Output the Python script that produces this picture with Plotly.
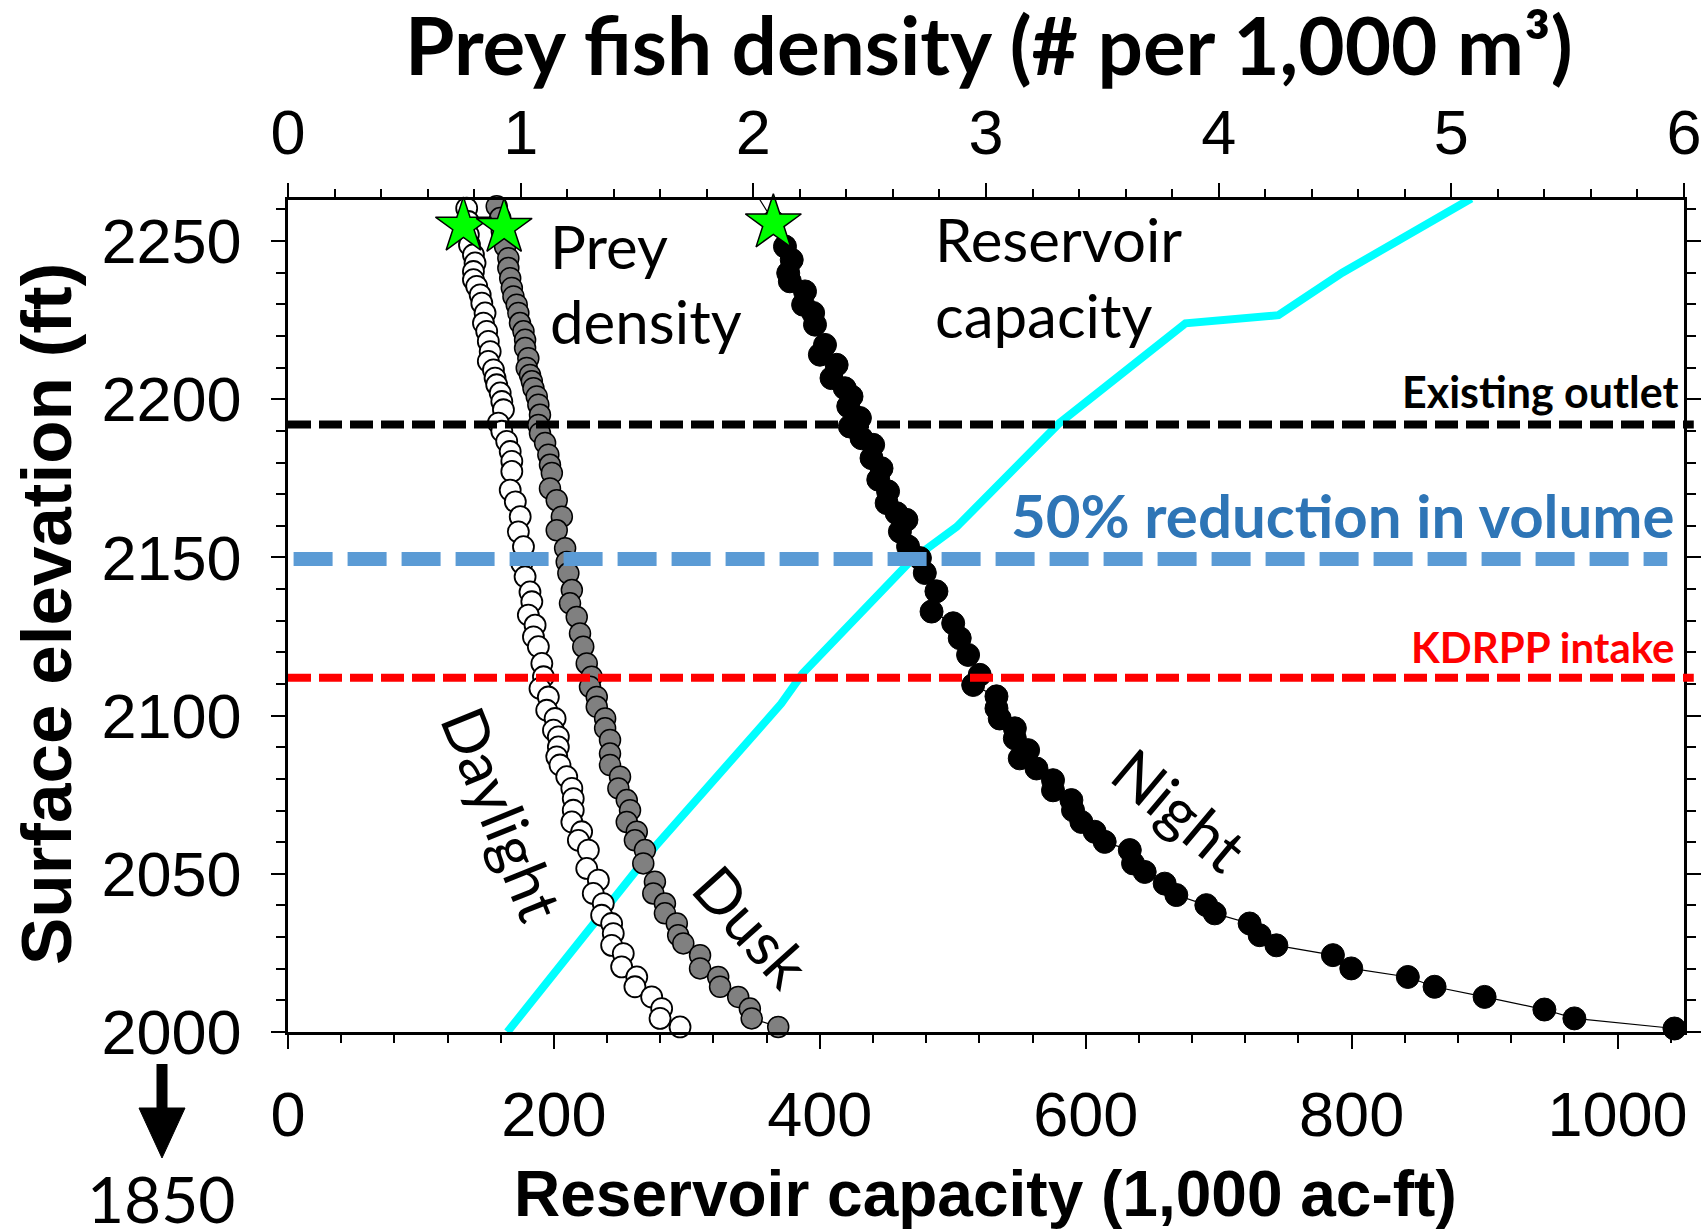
import plotly.graph_objects as go

# ---------------- data ----------------
# Prey fish density (# per 1,000 m3) vs surface elevation (ft)
daylight_density = [0.761, 0.768, 0.775, 0.775, 0.780, 0.797, 0.804, 0.797, 0.797, 0.811,
                    0.826, 0.833, 0.847, 0.840, 0.854, 0.861, 0.869, 0.861, 0.883, 0.890,
                    0.897, 0.912, 0.919, 0.926, 0.904, 0.919, 0.940, 0.955, 0.962, 0.962,
                    0.955, 0.977, 0.998, 0.990, 1.012, 1.005, 1.019, 1.040, 1.048, 1.033,
                    1.062, 1.055, 1.076, 1.091, 1.098, 1.083, 1.119, 1.112, 1.148, 1.141,
                    1.162, 1.162, 1.155, 1.169, 1.198, 1.220, 1.226, 1.226, 1.220, 1.262,
                    1.248, 1.291, 1.284, 1.334, 1.312, 1.355, 1.348, 1.391, 1.398, 1.391,
                    1.441, 1.434, 1.499, 1.491, 1.563, 1.606, 1.599, 1.685]
daylight_elev = [2263.6, 2260.4, 2256.2, 2252.0, 2248.8, 2245.7, 2243.1, 2240.4, 2237.8, 2235.7,
                 2233.0, 2230.4, 2227.3, 2224.1, 2221.5, 2218.3, 2215.1, 2212.0, 2209.3, 2206.7,
                 2204.6, 2202.0, 2199.3, 2196.7, 2192.5, 2189.9, 2186.7, 2183.5, 2180.4, 2177.2,
                 2171.3, 2167.6, 2162.9, 2158.1, 2153.4, 2148.1, 2143.9, 2139.1, 2136.0, 2131.8,
                 2128.6, 2124.9, 2121.8, 2116.5, 2112.3, 2108.6, 2105.9, 2101.7, 2099.1, 2095.4,
                 2093.3, 2090.1, 2087.0, 2084.4, 2080.7, 2077.0, 2073.8, 2070.1, 2066.4, 2063.3,
                 2060.6, 2057.5, 2051.7, 2048.0, 2043.8, 2040.6, 2036.9, 2034.3, 2031.1, 2027.4,
                 2024.8, 2020.6, 2017.4, 2014.3, 2011.1, 2007.4, 2004.3, 2001.6]

dusk_density = [0.887, 0.897, 0.912, 0.919, 0.933, 0.947, 0.947, 0.955, 0.962, 0.969,
                0.983, 0.990, 0.997, 1.012, 1.019, 1.019, 1.033, 1.026, 1.040, 1.048,
                1.055, 1.069, 1.076, 1.083, 1.076, 1.083, 1.105, 1.119, 1.126, 1.134,
                1.126, 1.155, 1.177, 1.155, 1.191, 1.198, 1.205, 1.220, 1.212, 1.241,
                1.255, 1.269, 1.284, 1.305, 1.298, 1.327, 1.327, 1.363, 1.363, 1.384,
                1.384, 1.384, 1.427, 1.420, 1.456, 1.470, 1.456, 1.499, 1.491, 1.534,
                1.527, 1.577, 1.570, 1.620, 1.620, 1.671, 1.677, 1.699, 1.771, 1.771,
                1.849, 1.857, 1.935, 1.985, 1.993, 2.107]
dusk_elev = [2263.4, 2261.0, 2257.3, 2253.1, 2248.3, 2244.6, 2241.5, 2238.3, 2235.2, 2232.5,
             2229.9, 2227.3, 2224.1, 2221.5, 2218.8, 2216.2, 2213.0, 2209.9, 2207.7, 2205.7,
             2203.5, 2200.9, 2198.3, 2195.1, 2191.9, 2189.3, 2186.2, 2182.5, 2179.3, 2176.7,
             2171.8, 2168.1, 2162.9, 2158.6, 2152.9, 2148.6, 2145.0, 2139.7, 2135.5, 2131.2,
             2126.0, 2121.8, 2116.5, 2112.3, 2109.1, 2105.9, 2102.8, 2099.1, 2096.0, 2092.3,
             2088.0, 2084.4, 2080.7, 2077.0, 2073.3, 2070.1, 2066.4, 2063.3, 2060.6, 2057.5,
             2053.3, 2047.5, 2043.8, 2040.6, 2037.5, 2034.3, 2030.6, 2028.0, 2024.3, 2020.1,
             2017.4, 2014.3, 2011.1, 2007.4, 2004.3, 2001.6]

night_density = [2.028, 2.086, 2.136, 2.165, 2.150, 2.157, 2.222, 2.214, 2.257, 2.265,
                 2.308, 2.286, 2.358, 2.336, 2.393, 2.422, 2.408, 2.458, 2.415, 2.465,
                 2.515, 2.508, 2.551, 2.537, 2.579, 2.573, 2.616, 2.658, 2.630, 2.665,
                 2.716, 2.737, 2.787, 2.766, 2.859, 2.887, 2.923, 2.973, 2.945, 3.045,
                 3.045, 3.059, 3.124, 3.124, 3.181, 3.145, 3.217, 3.288, 3.288, 3.367,
                 3.374, 3.410, 3.467, 3.510, 3.618, 3.632, 3.682, 3.768, 3.818, 3.947,
                 3.983, 4.133, 4.176, 4.248, 4.491, 4.570, 4.813, 4.928, 5.143, 5.400,
                 5.529, 5.959]
night_elev = [2263.1, 2256.2, 2248.3, 2244.1, 2239.9, 2237.3, 2234.1, 2229.9, 2227.3, 2223.6,
              2217.2, 2214.1, 2210.9, 2206.7, 2203.5, 2200.9, 2197.8, 2194.1, 2191.4, 2187.7,
              2185.6, 2181.4, 2178.2, 2174.6, 2170.9, 2167.2, 2164.0, 2161.9, 2158.2, 2153.5,
              2149.8, 2145.1, 2139.3, 2132.9, 2129.2, 2124.5, 2119.2, 2112.9, 2109.7, 2106.1,
              2102.3, 2099.1, 2096.0, 2092.8, 2089.1, 2086.5, 2083.3, 2079.6, 2076.4, 2073.3,
              2070.1, 2066.4, 2063.3, 2060.1, 2057.5, 2053.3, 2050.6, 2046.9, 2043.3, 2040.1,
              2037.5, 2034.3, 2030.6, 2027.4, 2024.3, 2020.1, 2017.4, 2014.3, 2011.1, 2007.1,
              2004.3, 2001.1]

# green stars (current operating level)
star_density = [0.754, 0.929, 2.086]
star_elev = [2254.7, 2254.3, 2255.7]

# Reservoir capacity (1,000 ac-ft) vs surface elevation (ft)
capacity_kaf = [165, 276, 371, 387, 469, 503, 580, 675, 745, 793, 890]
capacity_elev = [2000, 2058.5, 2103.8, 2113.3, 2149.2, 2159.7, 2192.4, 2224.0, 2226.6, 2240.0, 2263.5]

# horizontal reference elevations
level_names = ["Existing outlet", "50% reduction in volume", "KDRPP intake"]
level_elev = [2192, 2149.5, 2112]

# tick labels
capacity_ticks = [0, 200, 400, 600, 800, 1000]
density_ticks = [0, 1, 2, 3, 4, 5, 6]
elev_ticks = [2000, 2050, 2100, 2150, 2200, 2250]

# ---------------- layout geometry ----------------
W, H = 1703, 1229
L, R, T, B = 288, 19, 200, 197
PW, PH = W - L - R, H - T - B


def px(x):
    return (x - L) / PW


def py(y):
    return (H - B - y) / PH


ARIAL = "Liberation Sans, Arial, sans-serif"
CALIBRI = "Lato, Carlito, Calibri, sans-serif"

fig = go.Figure()

# reservoir capacity curve (bottom axis)
fig.add_trace(go.Scatter(x=capacity_kaf, y=capacity_elev, mode="lines",
                         line=dict(color="#00FFFF", width=8),
                         xaxis="x", yaxis="y", hoverinfo="skip"))

series = [
    (daylight_density, daylight_elev, "white", 21, 1.8),
    (dusk_density, dusk_elev, "#808080", 21, 1.5),
    (night_density, night_elev, "black", 23, 1.0),
]
for dens, elev, fill, size, lw in series:
    fig.add_trace(go.Scatter(x=dens, y=elev, mode="lines+markers",
                             line=dict(color="black", width=1.2),
                             marker=dict(color=fill, size=size,
                                         line=dict(color="black", width=lw)),
                             xaxis="x2", yaxis="y", cliponaxis=False))

fig.add_trace(go.Scatter(x=star_density, y=star_elev, mode="markers",
                         marker=dict(symbol="star", size=42, color="#00FF00",
                                     line=dict(color="black", width=1.5)),
                         xaxis="x2", yaxis="y", cliponaxis=False))

# horizontal reference lines
line_styles = [
    dict(color="black", width=8, dash="23px,8px"),
    dict(color="#5B9BD5", width=14, dash="39px,15px"),
    dict(color="#FF0000", width=8, dash="23px,8px"),
]
line_x = [(0, 1.007), (0.004, 0.988), (0, 1.007)]
shapes = []
for lvl, st, (x0, x1) in zip(level_elev, line_styles, line_x):
    shapes.append(dict(type="line", xref="paper", yref="y", x0=x0, x1=x1,
                       y0=lvl, y1=lvl, line=st, layer="above"))

# arrow toward 1850 at lower left
shapes.append(dict(type="line", xref="paper", yref="paper",
                   x0=px(162), x1=px(162), y0=py(1064), y1=py(1112),
                   line=dict(color="black", width=11)))
shapes.append(dict(type="path", xref="paper", yref="paper",
                   path=f"M {px(139)},{py(1108)} L {px(185)},{py(1108)} L {px(162)},{py(1158)} Z",
                   fillcolor="black", line=dict(color="black", width=1)))

ann = []


def add_text(text, x, y, size, family=CALIBRI, color="black", bold=False,
             xanchor="center", yanchor="middle", angle=0):
    t = f"<b>{text}</b>" if bold else text
    ann.append(dict(text=t, x=px(x), y=py(y), xref="paper", yref="paper",
                    showarrow=False, xanchor=xanchor, yanchor=yanchor,
                    textangle=angle, font=dict(family=family, size=size, color=color)))


add_text("Prey fish density (# per 1,000 m³)", 989, 44, 80, bold=True)
add_text("Surface elevation (ft)", 46, 614, 71, family=ARIAL, bold=True, angle=-90)
add_text("Reservoir capacity (1,000 ac-ft)", 985, 1194, 64, family=ARIAL, bold=True)
add_text("1850", 161, 1198, 64)
add_text("Prey", 548, 246, 60, xanchor="left")
add_text("density", 548, 321, 60, xanchor="left")
add_text("Reservoir", 933, 239, 60, xanchor="left")
add_text("capacity", 933, 315, 60, xanchor="left")
add_text(level_names[0], 1680, 391, 43, bold=True, xanchor="right")
add_text(level_names[1], 1677, 515, 60, color="#2E75B6", bold=True, xanchor="right")
add_text(level_names[2], 1677, 647, 42, color="#FF0000", bold=True, xanchor="right")
add_text("Daylight", 503, 813, 61, angle=68)
add_text("Dusk", 752, 925, 61, angle=48)
add_text("Night", 1180, 809, 62, angle=40)

axis_common = dict(showline=True, linecolor="black", linewidth=2.5, showgrid=False,
                   zeroline=False, ticks="outside", ticklen=14, tickwidth=2,
                   tickcolor="black", automargin=False,
                   tickfont=dict(family=ARIAL, size=63, color="black"))

fig.update_layout(
    width=W, height=H, autosize=False,
    margin=dict(l=L, r=R, t=T, b=B, pad=0, autoexpand=False),
    paper_bgcolor="white", plot_bgcolor="white",
    showlegend=False,
    xaxis=dict(range=[0, 1050], tickmode="array", tickvals=capacity_ticks,
               ticktext=[str(v) for v in capacity_ticks],
               minor=dict(tickmode="linear", tick0=0, dtick=40, ticks="outside",
                          ticklen=8, tickwidth=2, tickcolor="black", showgrid=False),
               ticklabelstandoff=12, mirror=False, **axis_common),
    xaxis2=dict(range=[0, 6], overlaying="x", side="top", anchor="y",
                tickmode="array", tickvals=density_ticks,
                ticktext=[str(v) for v in density_ticks],
                minor=dict(tickmode="linear", tick0=0, dtick=0.2, ticks="outside",
                           ticklen=8, tickwidth=2, tickcolor="black", showgrid=False),
                ticklabelstandoff=4, **axis_common),
    yaxis=dict(range=[2000, 2263], tickmode="array", tickvals=elev_ticks,
               ticktext=[str(v) for v in elev_ticks], mirror="ticks",
               minor=dict(tickmode="linear", tick0=2000, dtick=10, ticks="outside",
                          ticklen=9, tickwidth=2, tickcolor="black", showgrid=False),
               ticklabelstandoff=17, **axis_common),
    shapes=shapes,
    annotations=ann,
)

fig.write_html("out.html",
               config={"displayModeBar": False, "responsive": False},
               post_script="document.body.style.margin='0';"
                           "document.body.style.overflow='hidden';")
